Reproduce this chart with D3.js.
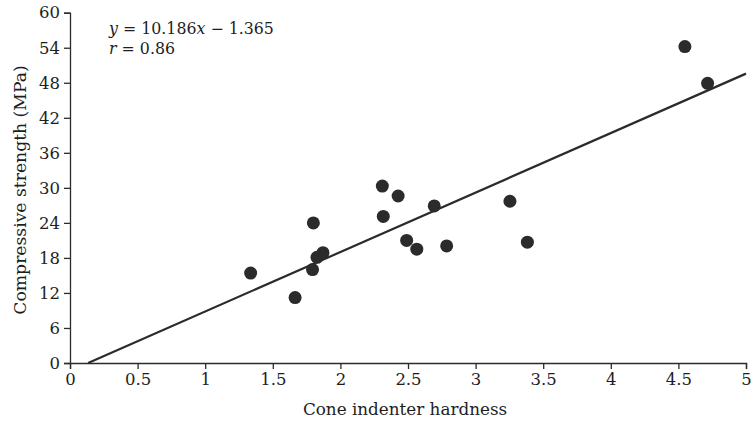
<!DOCTYPE html>
<html>
<head>
<meta charset="utf-8">
<script src="https://cdn.jsdelivr.net/npm/d3@7"></script>
<style>
  body { margin: 0; background: #fff; }
  svg { display: block; }
  text { font-family: "DejaVu Serif", "Liberation Serif", serif; fill: #1e1e1e; }
</style>
</head>
<body>
<div id="chart"></div>
<script>
// data
const hardness = [1.336, 1.665, 1.794, 1.80, 1.827, 1.871, 2.31, 2.317, 2.427, 2.49, 2.565, 2.694, 2.786, 3.254, 3.383, 4.548, 4.716];
const strength = [15.4, 11.2, 16.0, 24.0, 18.1, 18.9, 30.3, 25.1, 28.6, 21.0, 19.5, 26.9, 20.05, 27.7, 20.7, 54.2, 47.9];
const xTicks = [0, 0.5, 1, 1.5, 2, 2.5, 3, 3.5, 4, 4.5, 5];
const yTicks = [0, 6, 12, 18, 24, 30, 36, 42, 48, 54, 60];
const slope = 10.186;
const intercept = -1.365;

const width = 753, height = 422;
const margin = {top: 12.7, right: 7, bottom: 59, left: 70};
const ink = "#2b2b2b";

const svg = d3.select("#chart").append("svg")
    .attr("width", width)
    .attr("height", height);

const x = d3.scaleLinear().domain([0, 5]).range([margin.left, width - margin.right]);
const y = d3.scaleLinear().domain([0, 60]).range([height - margin.bottom, margin.top]);

// x axis
const xAxis = svg.append("g")
    .attr("transform", `translate(0,${y(0)})`)
    .call(d3.axisBottom(x).tickValues(xTicks).tickSize(6).tickPadding(4)
        .tickFormat(d => d));
xAxis.selectAll("path, line").attr("stroke", ink).attr("stroke-width", 1.3);
xAxis.selectAll("text").style("font-size", "16.5px").style("font-family", "DejaVu Serif");

// y axis
const yAxis = svg.append("g")
    .attr("transform", `translate(${x(0)},0)`)
    .call(d3.axisLeft(y).tickValues(yTicks).tickSize(6).tickPadding(4));
yAxis.selectAll("path, line").attr("stroke", ink).attr("stroke-width", 1.3);
yAxis.selectAll("text").style("font-size", "16.5px").style("font-family", "DejaVu Serif");

// fitted line, clipped to y >= 0
const xStart = -intercept / slope;
svg.append("line")
    .attr("x1", x(xStart)).attr("y1", y(0))
    .attr("x2", x(5)).attr("y2", y(slope * 5 + intercept))
    .attr("stroke", ink)
    .attr("stroke-width", 2.2);

// points
svg.append("g").selectAll("circle")
    .data(hardness)
    .join("circle")
    .attr("cx", d => x(d))
    .attr("cy", (d, i) => y(strength[i]))
    .attr("r", 6.5)
    .attr("fill", ink);

// axis titles
svg.append("text")
    .attr("x", 405)
    .attr("y", 415)
    .attr("text-anchor", "middle")
    .style("font-size", "16.8px")
    .text("Cone indenter hardness");

svg.append("text")
    .attr("transform", `translate(26,190) rotate(-90)`)
    .attr("text-anchor", "middle")
    .style("font-size", "17.2px")
    .text("Compressive strength (MPa)");

// equation
const eq = svg.append("text")
    .attr("x", 109)
    .attr("y", 34)
    .style("font-size", "15.8px");
eq.append("tspan").style("font-style", "italic").text("y");
eq.append("tspan").text(" = 10.186");
eq.append("tspan").style("font-style", "italic").text("x");
eq.append("tspan").text(" \u2212 1.365");

const rr = svg.append("text")
    .attr("x", 109)
    .attr("y", 54)
    .style("font-size", "15.8px");
rr.append("tspan").style("font-style", "italic").text("r");
rr.append("tspan").text(" = 0.86");
</script>
</body>
</html>
